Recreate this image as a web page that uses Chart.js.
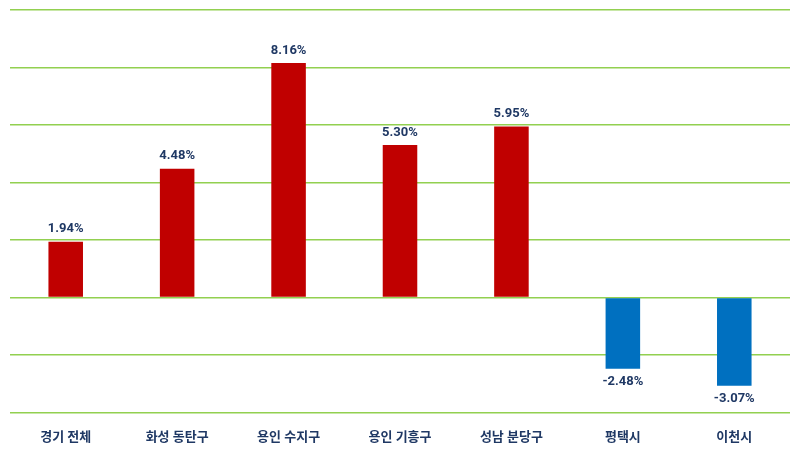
<!DOCTYPE html>
<html lang="ko">
<head>
  <meta charset="UTF-8" />
  <title>지역별 변동률</title>
  <script src="https://cdn.jsdelivr.net/npm/chart.js"></script>
  <style>
    html, body { margin: 0; padding: 0; background: #fff; }
    #wrap { width: 800px; height: 450px; }
  </style>
</head>
<body>
  <div id="wrap"><canvas id="chart"></canvas></div>
  <script>
    const regions = ['경기 전체', '화성 동탄구', '용인 수지구', '용인 기흥구', '성남 분당구', '평택시', '이천시'];
    const changes = [1.94, 4.48, 8.16, 5.30, 5.95, -2.48, -3.07];
    const yTicks = [-4, -2, 0, 2, 4, 6, 8, 10];

    const FONT = "Roboto, 'Noto Sans CJK KR', sans-serif";
    const NAVY = '#1f3864';

    // value labels above / below each bar
    const valueLabels = {
      id: 'valueLabels',
      afterDatasetsDraw(chart) {
        const ctx = chart.ctx;
        const meta = chart.getDatasetMeta(0);
        ctx.save();
        ctx.font = "bold 13px " + FONT;
        ctx.fillStyle = NAVY;
        ctx.textAlign = 'center';
        meta.data.forEach((bar, i) => {
          const v = changes[i];
          const txt = v.toFixed(2) + '%';
          if (v >= 0) {
            ctx.textBaseline = 'bottom';
            ctx.fillText(txt, bar.x, bar.y - 6);
          } else {
            ctx.textBaseline = 'top';
            ctx.fillText(txt, bar.x, bar.y + 7);
          }
        });
        ctx.restore();
      }
    };

    new Chart(document.getElementById('chart'), {
      type: 'bar',
      data: {
        labels: regions,
        datasets: [{
          data: changes,
          backgroundColor: changes.map(v => v >= 0 ? '#c00000' : '#0070c0'),
          barPercentage: 0.31,
          categoryPercentage: 1
        }]
      },
      options: {
        responsive: true,
        maintainAspectRatio: false,
        animation: false,
        layout: { padding: { left: 10, right: 10, top: 10, bottom: -6 } },
        plugins: { legend: { display: false }, tooltip: { enabled: false } },
        scales: {
          x: {
            grid: { display: false },
            border: { display: false },
            ticks: {
              color: NAVY,
              padding: 10,
              font: { family: FONT, size: 13, weight: 'bold' }
            }
          },
          y: {
            min: yTicks[0],
            max: yTicks[yTicks.length - 1],
            afterBuildTicks: axis => { axis.ticks = yTicks.map(v => ({ value: v })); },
            ticks: { display: false },
            border: { display: false },
            grid: { color: '#92d050', lineWidth: 1.4, drawTicks: false }
          }
        }
      },
      plugins: [valueLabels]
    });
  </script>
</body>
</html>
